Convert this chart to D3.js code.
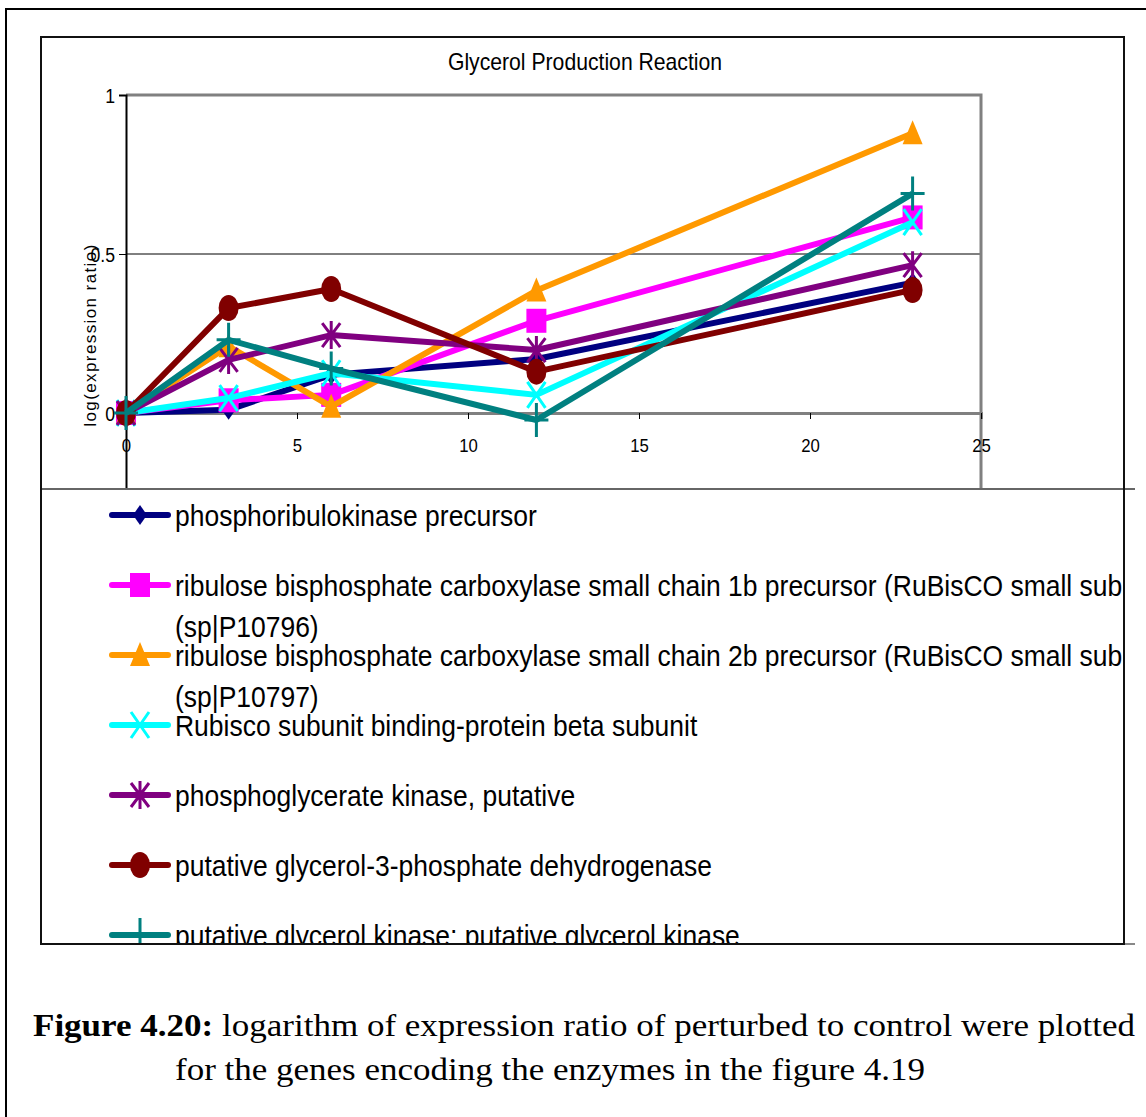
<!DOCTYPE html>
<html>
<head>
<meta charset="utf-8">
<script src="https://cdn.jsdelivr.net/npm/d3@7"></script>
<style>
  body { margin: 0; background: #fff; }
  svg { display: block; }
  .narrow { font-family: "Liberation Sans", Arial, sans-serif; }
</style>
</head>
<body>
<div id="viz"></div>
<script>

/* glycerol production reaction chart, drawn with d3 */

// data (time points and log expression ratio for each gene)
const times = [0, 3, 6, 12, 23];

const prkValues     = [0, 0.01, 0.12, 0.17, 0.41];    // phosphoribulokinase precursor
const rbcs1bValues  = [0, 0.04, 0.057, 0.29, 0.615];  // RuBisCO small chain 1b
const rbcs2bValues  = [0, 0.21, 0.02, 0.385, 0.88];   // RuBisCO small chain 2b
const rubBindValues = [0, 0.047, 0.125, 0.057, 0.60]; // Rubisco subunit binding-protein
const pgkValues     = [0, 0.167, 0.245, 0.198, 0.465];// phosphoglycerate kinase
const g3pdhValues   = [0, 0.33, 0.39, 0.13, 0.387];   // glycerol-3-phosphate dehydrogenase
const glpkValues    = [0, 0.23, 0.14, -0.022, 0.69];  // glycerol kinase

const geneNames = [
    ["phosphoribulokinase precursor"],
    ["ribulose bisphosphate carboxylase small chain 1b precursor (RuBisCO small subunit 1b)", "(sp|P10796)"],
    ["ribulose bisphosphate carboxylase small chain 2b precursor (RuBisCO small subunit 2b)", "(sp|P10797)"],
    ["Rubisco subunit binding-protein beta subunit"],
    ["phosphoglycerate kinase, putative"],
    ["putative glycerol-3-phosphate dehydrogenase"],
    ["putative glycerol kinase; putative glycerol kinase"]
];

const xTicks = [0, 5, 10, 15, 20, 25];
const yTicks = [0, 0.5, 1];

const titleText = "Glycerol Production Reaction";
const yLabel = "log(expression ratio)";

// series styling
const colors  = ["#000080", "#ff00ff", "#ff9900", "#00ffff", "#800080", "#800000", "#008080"];
const markers = ["diamond", "square", "triangle", "cross", "star", "circle", "plus"];

const seriesValues = [prkValues, rbcs1bValues, rbcs2bValues, rubBindValues, pgkValues, g3pdhValues, glpkValues];

const series = seriesValues.map((vals, i) => ({
    name: geneNames[i],
    color: colors[i],
    marker: markers[i],
    points: vals.map((v, j) => ({ x: times[j], y: v }))
}));


const W = 1146, H = 1117;

const svg = d3.select("#viz")
    .append("svg")
        .attr("width", W)
        .attr("height", H);

// narrow font factor: the chart uses a condensed face, squeeze a normal one to fit
const probe = svg.append("text")
    .attr("class", "narrow")
    .attr("font-size", 30)
    .text("phosphoribulokinase precursor");
const K = 362 / probe.node().getComputedTextLength();
probe.remove();

// page frame (left + top line of the document box)
svg.append("path")
    .attr("d", "M6,1117 L6,9 L1146,9")
    .attr("fill", "none")
    .attr("stroke", "#000")
    .attr("stroke-width", 2);

// plot area in pixels
const plot = { left: 126, right: 981, top: 95, bottom: 572 };

const scaleX = d3.scaleLinear([0, 25], [plot.left, plot.right]);
const scaleY = d3.scaleLinear([-0.5, 1], [plot.bottom, plot.top]);


// narrow text placed at x,y
function narrow_text(parent, x, y, size, txt){
    return parent.append("text")
        .attr("class", "narrow")
        .attr("transform", `translate(${x},${y}) scale(${K},1)`)
        .style("font-size", size + "px")
        .text(txt);
}

// draw a marker symbol in a group centered at 0,0
function draw_marker(g, type, color){

    if (type === "diamond"){
        g.append("path").attr("d", "M0,-10 L7,0 L0,10 L-7,0 Z").attr("fill", color);
    } else if (type === "square"){
        g.append("rect").attr("x", -10).attr("y", -12).attr("width", 20).attr("height", 24).attr("fill", color);
    } else if (type === "triangle"){
        g.append("path").attr("d", "M0,-13 L10,11 L-10,11 Z").attr("fill", color);
    } else if (type === "cross"){
        g.append("path").attr("d", "M-9,-13 L9,13 M9,-13 L-9,13")
            .attr("stroke", color).attr("stroke-width", 3).attr("fill", "none");
    } else if (type === "star"){
        g.append("path").attr("d", "M-9,-12 L9,12 M9,-12 L-9,12 M0,-14 L0,14")
            .attr("stroke", color).attr("stroke-width", 3).attr("fill", "none");
    } else if (type === "circle"){
        g.append("ellipse").attr("rx", 10).attr("ry", 13).attr("fill", color);
    } else if (type === "plus"){
        g.append("path").attr("d", "M-12,0 L12,0 M0,-17 L0,17")
            .attr("stroke", color).attr("stroke-width", 3).attr("fill", "none");
    }

}


// chart title
narrow_text(svg, 585, 70, 24, titleText).attr("text-anchor", "middle");

// gridline at 0.5
svg.append("g")
    .selectAll("line")
    .data(yTicks.filter(d => d > 0 && d < 1))
    .join("line")
        .attr("x1", plot.left).attr("x2", plot.right)
        .attr("y1", d => scaleY(d)).attr("y2", d => scaleY(d))
        .attr("stroke", "#000")
        .attr("stroke-width", 1);

// plot area border (top + right, grey)
svg.append("path")
    .attr("d", `M${plot.left},${scaleY(1)} L${plot.right},${scaleY(1)} L${plot.right},${plot.bottom}`)
    .attr("fill", "none")
    .attr("stroke", "#808080")
    .attr("stroke-width", 3);

// x axis crossing at y = 0
const axisX = d3.axisBottom(scaleX).tickValues(xTicks).tickSize(6).tickFormat(d3.format("d"));
const gx = svg.append("g")
    .attr("transform", `translate(0,${scaleY(0)})`)
    .call(axisX);
gx.select(".domain").attr("stroke", "#808080").attr("stroke-width", 3);
gx.selectAll(".tick line").attr("stroke", "#000");
gx.selectAll(".tick text")
    .attr("class", "narrow")
    .style("font-size", "19px")
    .attr("fill", "#000")
    .attr("y", 39)
    .attr("dy", null)
    .attr("transform", `scale(${K},1)`);

// y axis
const axisY = d3.axisLeft(scaleY).tickValues(yTicks).tickSize(7).tickFormat(d => d);
const gy = svg.append("g")
    .attr("transform", `translate(${plot.left},0)`)
    .call(axisY);
gy.select(".domain").attr("stroke", "#000").attr("stroke-width", 2);
gy.selectAll(".tick line").attr("stroke", "#000");
gy.selectAll(".tick text")
    .attr("class", "narrow")
    .style("font-size", "20px")
    .attr("fill", "#000")
    .attr("x", -11 / K)
    .attr("dy", "0.35em")
    .attr("transform", `scale(${K},1)`);

// y label
svg.append("text")
    .attr("class", "narrow")
    .attr("transform", "translate(96,335) rotate(-90)")
    .attr("text-anchor", "middle")
    .style("font-size", "17px")
    .attr("letter-spacing", 1.4)
    .text(yLabel);


// series lines
const line = d3.line()
    .x(d => scaleX(d.x))
    .y(d => scaleY(d.y));

const gSeries = svg.append("g");

series.forEach(s => {

    gSeries.append("path")
        .datum(s.points)
        .attr("d", line)
        .attr("fill", "none")
        .attr("stroke", s.color)
        .attr("stroke-width", 6)
        .attr("stroke-linejoin", "round");

    s.points.forEach(p => {
        let g = gSeries.append("g")
            .attr("transform", `translate(${scaleX(p.x)},${scaleY(p.y)})`);
        draw_marker(g, s.marker, s.color);
    });

});


// legend box (covers the lower part of the plot)
const legTop = 489, legBottom = 944, boxLeft = 41, boxRight = 1124;

svg.append("defs").append("clipPath")
    .attr("id", "legclip")
    .append("rect")
        .attr("x", boxLeft).attr("y", legTop)
        .attr("width", boxRight - boxLeft).attr("height", legBottom - legTop);

svg.append("rect")
    .attr("x", boxLeft).attr("y", legTop)
    .attr("width", boxRight - boxLeft).attr("height", legBottom - legTop)
    .attr("fill", "#fff");

const gLeg = svg.append("g").attr("clip-path", "url(#legclip)");

series.forEach((s, i) => {

    let cy = 515 + i * 70;

    gLeg.append("line")
        .attr("x1", 112).attr("x2", 168)
        .attr("y1", cy).attr("y2", cy)
        .attr("stroke", s.color)
        .attr("stroke-width", 6)
        .attr("stroke-linecap", "round");

    let g = gLeg.append("g").attr("transform", `translate(140,${cy})`);
    draw_marker(g, s.marker, s.color);

    s.name.forEach((t, k) => {
        narrow_text(gLeg, 175, cy + 11 + k * 41, 30, t);
    });

});

// legend top line
svg.append("line")
    .attr("x1", boxLeft).attr("x2", 1135)
    .attr("y1", legTop).attr("y2", legTop)
    .attr("stroke", "#666").attr("stroke-width", 2);
svg.append("line")
    .attr("x1", boxRight).attr("x2", 1135)
    .attr("y1", legBottom).attr("y2", legBottom)
    .attr("stroke", "#888").attr("stroke-width", 2);

// chart area border
svg.append("rect")
    .attr("x", boxLeft).attr("y", 37)
    .attr("width", boxRight - boxLeft).attr("height", legBottom - 37)
    .attr("fill", "none")
    .attr("stroke", "#111")
    .attr("stroke-width", 2);


// figure caption
const serif = "'Liberation Serif', 'Times New Roman', serif";

const cap1 = svg.append("text")
    .attr("x", 33).attr("y", 1036)
    .attr("font-family", serif)
    .attr("font-size", 31)
    .attr("textLength", 1102)
    .attr("lengthAdjust", "spacingAndGlyphs");
cap1.append("tspan").attr("font-weight", "bold").text("Figure 4.20:");
cap1.append("tspan").text(" logarithm of expression ratio of perturbed to control were plotted");

svg.append("text")
    .attr("x", 175).attr("y", 1080)
    .attr("font-family", serif)
    .attr("font-size", 31)
    .attr("textLength", 750)
    .attr("lengthAdjust", "spacingAndGlyphs")
    .text("for the genes encoding the enzymes in the figure 4.19");

</script>
</body>
</html>
